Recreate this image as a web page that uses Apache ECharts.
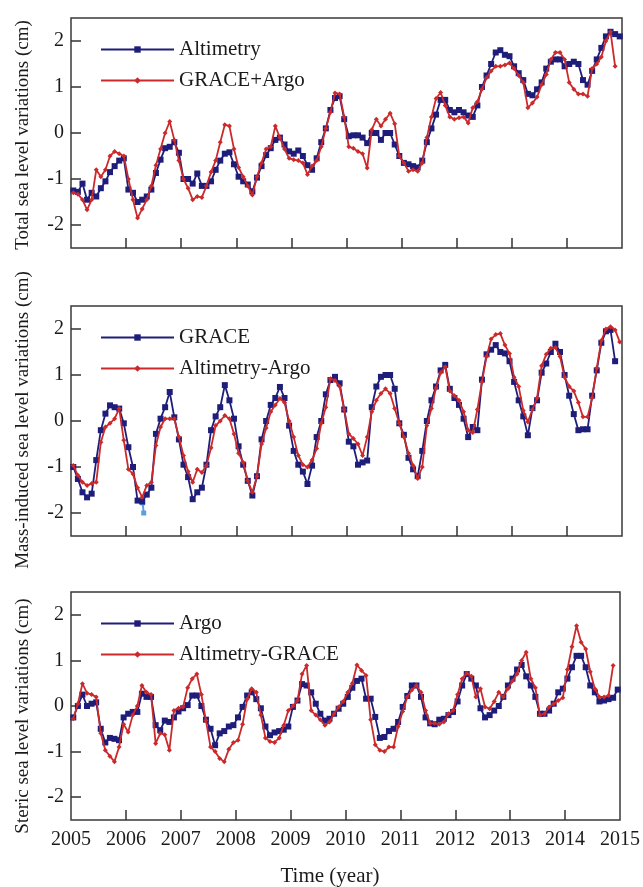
<!DOCTYPE html>
<html><head><meta charset="utf-8">
<script src="https://cdn.jsdelivr.net/npm/echarts@6/dist/echarts.min.js"></script>
<style>html,body{margin:0;padding:0;background:#fff}#c{width:643px;height:887px}</style>
</head><body><div id="c"></div>
<script>
// monthly samples 2005-01 .. 2014-12 (mid-month)
const yearTicks = [2005,2006,2007,2008,2009,2010,2011,2012,2013,2014,2015];
const yTicks = [-2,-1,0,1,2];

// Panel 1: total sea level
const altimetry = [
 -1.25,-1.28,-1.1,-1.45,-1.3,-1.38,-1.2,-1.05,-0.85,-0.72,-0.6,-0.55,
 -1.23,-1.3,-1.5,-1.45,-1.38,-1.23,-0.87,-0.58,-0.33,-0.3,-0.2,-0.43,
 -1.0,-1.0,-1.1,-0.88,-1.15,-1.15,-1.05,-0.8,-0.6,-0.45,-0.42,-0.68,
 -0.95,-1.05,-1.12,-1.27,-0.97,-0.72,-0.48,-0.33,-0.15,-0.1,-0.25,-0.4,
 -0.45,-0.38,-0.5,-0.7,-0.8,-0.55,-0.2,0.1,0.5,0.76,0.8,0.3,
 -0.07,-0.05,-0.05,-0.1,-0.22,0.0,0.0,-0.15,0.0,0.0,-0.25,-0.5,
 -0.65,-0.68,-0.72,-0.75,-0.6,-0.2,0.1,0.4,0.72,0.72,0.5,0.45,
 0.5,0.45,0.38,0.35,0.6,1.0,1.25,1.5,1.75,1.8,1.7,1.67,
 1.45,1.3,1.15,0.85,0.82,0.95,1.1,1.4,1.55,1.6,1.6,1.45,
 1.5,1.55,1.5,1.15,1.05,1.35,1.6,1.85,2.1,2.2,2.15,2.1];
const graceArgo = [
 -1.3,-1.33,-1.45,-1.67,-1.45,-0.8,-0.95,-0.8,-0.5,-0.4,-0.45,-0.5,
 -1.0,-1.45,-1.85,-1.65,-1.45,-1.15,-0.7,-0.35,0.0,0.25,-0.15,-0.6,
 -1.0,-1.2,-1.45,-1.38,-1.4,-1.15,-0.85,-0.6,-0.2,0.18,0.15,-0.35,
 -0.75,-0.95,-1.15,-1.35,-0.95,-0.65,-0.35,-0.3,0.15,-0.1,-0.35,-0.55,
 -0.58,-0.6,-0.65,-0.9,-0.72,-0.6,-0.3,0.1,0.45,0.87,0.85,0.35,
 -0.3,-0.33,-0.4,-0.45,-0.76,0.07,0.3,0.15,0.3,0.43,0.2,-0.5,
 -0.65,-0.83,-0.8,-0.83,-0.65,-0.1,0.35,0.75,0.88,0.6,0.35,0.3,
 0.33,0.35,0.22,0.55,0.68,0.95,1.2,1.35,1.45,1.45,1.48,1.52,
 1.4,1.25,1.1,0.55,0.65,0.78,1.05,1.27,1.6,1.75,1.75,1.6,
 1.1,0.95,0.85,0.85,0.8,1.4,1.5,1.65,2.0,2.2,1.45,null];

// Panel 2: mass-induced
const grace = [
 -1.0,-1.26,-1.55,-1.66,-1.58,-0.85,-0.2,0.16,0.34,0.3,0.27,-0.05,
 -0.57,-1.0,-1.73,-1.75,-1.6,-1.45,-0.28,0.05,0.3,0.63,0.08,-0.4,
 -0.95,-1.22,-1.7,-1.55,-1.45,-0.95,-0.2,0.1,0.3,0.78,0.45,0.05,
 -0.55,-0.95,-1.3,-1.62,-1.2,-0.4,0.0,0.35,0.5,0.74,0.5,-0.1,
 -0.65,-0.95,-1.1,-1.37,-0.97,-0.35,0.0,0.58,0.89,0.96,0.82,0.25,
 -0.45,-0.55,-0.95,-0.9,-0.86,0.3,0.75,0.96,1.0,1.0,0.7,-0.05,
 -0.3,-0.8,-1.05,-1.2,-0.65,0.0,0.45,0.75,1.1,1.22,0.7,0.5,
 0.35,0.05,-0.35,-0.13,-0.2,0.9,1.45,1.55,1.65,1.5,1.47,1.3,
 0.85,0.45,0.1,-0.31,0.28,0.45,1.05,1.25,1.5,1.68,1.5,1.0,
 0.55,0.15,-0.2,-0.18,-0.18,0.55,1.1,1.7,1.95,1.98,1.3,null];
const altimetryArgo = [
 -0.97,-1.18,-1.33,-1.4,-1.36,-1.33,-0.46,-0.13,-0.05,0.05,0.27,-0.42,
 -1.05,-1.15,-1.45,-1.66,-1.4,-1.33,-0.53,-0.13,0.05,0.05,0.05,-0.35,
 -0.75,-1.1,-1.33,-1.05,-1.12,-0.97,-0.58,-0.1,0.0,0.12,0.05,-0.28,
 -0.7,-0.9,-1.3,-1.55,-1.2,-0.5,-0.15,0.2,0.35,0.49,0.4,0.0,
 -0.35,-0.75,-0.95,-1.0,-0.85,-0.6,-0.05,0.3,0.92,0.88,0.75,0.25,
 -0.28,-0.38,-0.5,-0.75,-0.35,0.2,0.45,0.6,0.7,0.6,0.27,-0.05,
 -0.35,-0.7,-0.97,-1.25,-1.0,-0.1,0.27,0.72,1.05,1.18,0.65,0.55,
 0.45,0.2,-0.2,-0.25,0.25,0.85,1.4,1.78,1.88,1.9,1.65,1.47,
 0.95,0.75,0.23,-0.02,0.25,0.5,1.2,1.45,1.58,1.6,1.4,0.95,
 0.75,0.65,0.4,0.09,0.09,0.5,1.15,1.75,2.0,2.05,1.98,1.72];
const graceOutlier = [[2006.30,-1.78],[2006.32,-2.0]];

// Panel 3: steric
const argo = [
 -0.25,0.0,0.25,0.0,0.05,0.08,-0.5,-0.8,-0.7,-0.72,-0.75,-0.25,
 -0.17,-0.13,-0.13,0.27,0.2,0.2,-0.42,-0.53,-0.32,-0.35,-0.25,-0.12,
 -0.05,0.02,0.23,0.23,0.0,-0.3,-0.5,-0.86,-0.6,-0.55,-0.45,-0.42,
 -0.25,-0.02,0.23,0.3,0.15,-0.05,-0.45,-0.64,-0.58,-0.55,-0.52,-0.45,
 -0.02,0.12,0.48,0.45,0.3,0.05,-0.17,-0.32,-0.28,-0.17,-0.06,0.05,
 0.2,0.4,0.55,0.6,0.16,0.16,-0.24,-0.7,-0.68,-0.55,-0.5,-0.35,
 -0.02,0.22,0.45,0.45,0.2,-0.25,-0.38,-0.4,-0.3,-0.28,-0.2,-0.13,
 0.1,0.45,0.7,0.6,0.45,-0.05,-0.25,-0.2,-0.1,0.0,0.2,0.45,
 0.6,0.8,0.9,0.65,0.45,0.2,-0.17,-0.17,-0.1,0.05,0.3,0.38,
 0.6,0.85,1.1,1.1,0.85,0.45,0.3,0.1,0.12,0.15,0.18,0.36];
const altimetryGrace = [
 -0.28,0.05,0.49,0.28,0.25,0.2,-0.6,-0.97,-1.1,-1.22,-0.9,-0.4,
 -0.57,-0.2,0.0,0.45,0.3,0.25,-0.82,-0.6,-0.63,-0.97,-0.1,-0.05,
 -0.02,0.4,0.6,0.7,0.25,-0.32,-0.9,-1.0,-1.15,-1.22,-0.95,-0.8,
 -0.75,-0.4,0.15,0.38,0.3,-0.2,-0.7,-0.78,-0.8,-0.7,-0.42,-0.1,
 0.0,0.12,0.7,0.89,-0.1,-0.2,-0.3,-0.42,-0.35,-0.17,-0.02,0.1,
 0.3,0.5,0.9,0.78,0.67,-0.3,-0.85,-0.97,-1.0,-0.9,-0.9,-0.45,
 -0.12,0.2,0.35,0.45,0.3,-0.1,-0.38,-0.38,-0.4,-0.35,-0.17,-0.1,
 0.25,0.6,0.72,0.65,0.2,0.38,-0.02,-0.06,0.1,0.3,0.2,0.38,
 0.55,0.7,1.0,1.18,0.6,0.4,-0.2,-0.17,-0.02,0.05,0.12,0.18,
 0.8,1.3,1.76,1.4,1.25,0.75,0.38,0.2,0.2,0.23,0.89,null];

const time = altimetry.map((_, i) => 2005 + (i + 0.5) / 12);
const pair = v => v.map((y, i) => [time[i], y]).filter(p => p[1] !== null);

const FONT = '"Liberation Serif","DejaVu Serif",serif';
const BLUE = '#1f1d7a', RED = '#cc2a2a', TXT = '#1a1a1a';
const grids = [
  {left: 71, right: 21, top: 18, height: 230},
  {left: 71, right: 21, top: 306, height: 230},
  {left: 71, right: 21, top: 592, height: 228}
].map(g => Object.assign(g, {show: true, borderColor: '#3a3a3a', borderWidth: 1.5, backgroundColor: '#fff'}));

const xAxes = [0,1,2].map(i => ({
  type: 'value', gridIndex: i, min: 2005, max: 2015, interval: 1,
  axisLine: {show: false, onZero: false}, splitLine: {show: false},
  axisTick: {show: true, inside: true, length: 10, customValues: yearTicks.slice(1, -1), lineStyle: {color: '#333', width: 1.5}},
  axisLabel: {show: i === 2, margin: 10, customValues: yearTicks, fontFamily: FONT, fontSize: 20, color: TXT, formatter: v => String(v)}
}));
const yAxes = [0,1,2].map(i => ({
  type: 'value', gridIndex: i, min: -2.5, max: 2.5,
  axisLine: {show: false, onZero: false}, splitLine: {show: false},
  axisTick: {show: true, inside: true, length: 10, customValues: yTicks, lineStyle: {color: '#333', width: 1.5}},
  axisLabel: {margin: 7, customValues: yTicks, fontFamily: FONT, fontSize: 20, color: TXT}
}));

function ser(name, vals, idx, color, symbol, size) {
  return {name, type: 'line', xAxisIndex: idx, yAxisIndex: idx, data: pair(vals),
    symbol, symbolSize: size, showSymbol: true, animation: false,
    lineStyle: {color, width: 1.8}, itemStyle: {color}, z: color === RED ? 3 : 2};
}
const series = [
  ser('Altimetry', altimetry, 0, BLUE, 'rect', 6),
  ser('GRACE+Argo', graceArgo, 0, RED, 'diamond', 5),
  ser('GRACE', grace, 1, BLUE, 'rect', 6),
  ser('Altimetry-Argo', altimetryArgo, 1, RED, 'diamond', 5),
  {name: 'outlier', type: 'line', xAxisIndex: 1, yAxisIndex: 1, data: graceOutlier,
   symbol: 'rect', symbolSize: 5, lineStyle: {color: '#5aa0e0', width: 2}, itemStyle: {color: '#5aa0e0'}, z: 1, animation: false},
  ser('Argo', argo, 2, BLUE, 'rect', 6),
  ser('Altimetry-GRACE', altimetryGrace, 2, RED, 'diamond', 5)
];

const legendBase = {left: 95, orient: 'vertical', itemWidth: 73, itemHeight: 8, itemGap: 10,
  textStyle: {fontFamily: FONT, fontSize: 21, color: TXT, lineHeight: 16}, selectedMode: false};
const legends = [
  Object.assign({top: 34, data: ['Altimetry', 'GRACE+Argo']}, legendBase),
  Object.assign({top: 322, data: ['GRACE', 'Altimetry-Argo']}, legendBase),
  Object.assign({top: 608, data: ['Argo', 'Altimetry-GRACE']}, legendBase)
];

const ytext = (t, y) => ({type: 'text', x: 23, y, rotation: Math.PI / 2,
  style: {text: t, fontFamily: FONT, fontSize: 19, fill: TXT, align: 'center', verticalAlign: 'middle'}});

const chart = echarts.init(document.getElementById('c'), null, {renderer: 'canvas'});
chart.setOption({
  animation: false,
  grid: grids, xAxis: xAxes, yAxis: yAxes, series, legend: legends,
  graphic: [
    ytext('Total sea level variations (cm)', 135),
    ytext('Mass-induced sea level variations (cm)', 420),
    ytext('Steric sea level variations (cm)', 716),
    {type: 'text', x: 330, y: 876, style: {text: 'Time (year)', fontFamily: FONT, fontSize: 21, fill: TXT, align: 'center', verticalAlign: 'middle'}}
  ]
});
</script></body></html>
